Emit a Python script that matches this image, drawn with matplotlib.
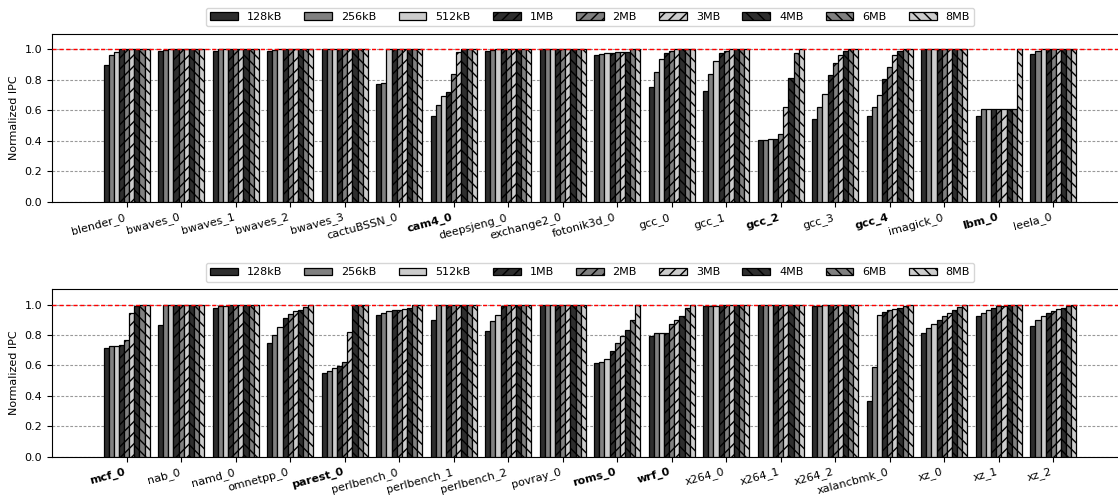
import matplotlib
matplotlib.use("Agg")
import matplotlib.pyplot as plt
import numpy as np

sizes = ["128kB", "256kB", "512kB", "1MB", "2MB", "3MB", "4MB", "6MB", "8MB"]

top_labels = ["blender_0", "bwaves_0", "bwaves_1", "bwaves_2", "bwaves_3", "cactuBSSN_0",
              "cam4_0", "deepsjeng_0", "exchange2_0", "fotonik3d_0", "gcc_0", "gcc_1",
              "gcc_2", "gcc_3", "gcc_4", "imagick_0", "lbm_0", "leela_0"]
top_bold = ["cam4_0", "gcc_2", "gcc_4", "lbm_0"]
top_values = [
    [0.90, 0.96, 0.985, 1.0, 1.0, 1.0, 1.0, 1.0, 1.0],
    [0.99, 0.995, 1.0, 1.0, 1.0, 1.0, 1.0, 1.0, 1.0],
    [0.99, 1.0, 1.0, 1.0, 1.0, 1.0, 1.0, 1.0, 1.0],
    [0.99, 0.995, 1.0, 1.0, 1.0, 1.0, 1.0, 1.0, 1.0],
    [1.0, 1.0, 1.0, 1.0, 1.0, 1.0, 1.0, 1.0, 1.0],
    [0.77, 0.78, 1.0, 1.0, 1.0, 1.0, 1.0, 1.0, 1.0],
    [0.56, 0.635, 0.695, 0.72, 0.84, 0.98, 1.0, 1.0, 1.0],
    [0.99, 0.995, 1.0, 1.0, 1.0, 1.0, 1.0, 1.0, 1.0],
    [1.0, 1.0, 1.0, 1.0, 1.0, 1.0, 1.0, 1.0, 1.0],
    [0.965, 0.97, 0.975, 0.978, 0.98, 0.983, 0.985, 1.0, 1.0],
    [0.75, 0.85, 0.935, 0.975, 0.99, 1.0, 1.0, 1.0, 1.0],
    [0.73, 0.84, 0.925, 0.975, 0.99, 1.0, 1.0, 1.0, 1.0],
    [0.405, 0.405, 0.41, 0.41, 0.445, 0.62, 0.81, 0.975, 1.0],
    [0.545, 0.62, 0.71, 0.83, 0.91, 0.965, 0.99, 1.0, 1.0],
    [0.56, 0.62, 0.70, 0.805, 0.885, 0.96, 0.99, 1.0, 1.0],
    [1.0, 1.0, 1.0, 1.0, 1.0, 1.0, 1.0, 1.0, 1.0],
    [0.565, 0.61, 0.61, 0.61, 0.61, 0.61, 0.61, 0.61, 1.0],
    [0.97, 0.99, 1.0, 1.0, 1.0, 1.0, 1.0, 1.0, 1.0],
]

bot_labels = ["mcf_0", "nab_0", "namd_0", "omnetpp_0", "parest_0", "perlbench_0",
              "perlbench_1", "perlbench_2", "povray_0", "roms_0", "wrf_0", "x264_0",
              "x264_1", "x264_2", "xalancbmk_0", "xz_0", "xz_1", "xz_2"]
bot_bold = ["mcf_0", "parest_0", "roms_0", "wrf_0"]
bot_values = [
    [0.715, 0.725, 0.73, 0.733, 0.77, 0.945, 0.99, 1.0, 1.0],
    [0.865, 1.0, 1.0, 1.0, 1.0, 1.0, 1.0, 1.0, 1.0],
    [0.975, 0.99, 0.99, 1.0, 1.0, 1.0, 1.0, 1.0, 1.0],
    [0.745, 0.80, 0.855, 0.91, 0.94, 0.955, 0.965, 0.985, 1.0],
    [0.547, 0.562, 0.584, 0.597, 0.62, 0.82, 1.0, 1.0, 1.0],
    [0.93, 0.947, 0.958, 0.962, 0.967, 0.969, 0.974, 1.0, 1.0],
    [0.897, 1.0, 1.0, 1.0, 1.0, 1.0, 1.0, 1.0, 1.0],
    [0.825, 0.892, 0.928, 0.99, 1.0, 1.0, 1.0, 1.0, 1.0],
    [1.0, 1.0, 1.0, 1.0, 1.0, 1.0, 1.0, 1.0, 1.0],
    [0.617, 0.624, 0.643, 0.696, 0.748, 0.792, 0.831, 0.897, 1.0],
    [0.794, 0.81, 0.81, 0.816, 0.871, 0.897, 0.925, 0.98, 1.0],
    [0.99, 0.99, 0.99, 1.0, 1.0, 1.0, 1.0, 1.0, 1.0],
    [0.995, 0.995, 0.995, 1.0, 1.0, 1.0, 1.0, 1.0, 1.0],
    [0.99, 0.992, 1.0, 1.0, 1.0, 1.0, 1.0, 1.0, 1.0],
    [0.367, 0.591, 0.93, 0.952, 0.967, 0.971, 0.98, 0.993, 1.0],
    [0.81, 0.847, 0.875, 0.901, 0.925, 0.947, 0.962, 0.984, 1.0],
    [0.925, 0.947, 0.967, 0.98, 0.989, 0.993, 1.0, 1.0, 1.0],
    [0.858, 0.897, 0.923, 0.941, 0.958, 0.969, 0.976, 0.991, 1.0],
]

yticks = [0.0, 0.2, 0.4, 0.6, 0.8, 1.0]

colors = ["#2e2e2e", "#808080", "#cccccc"] * 3
hatches = [None, None, None, "///", "///", "///", "\\\\\\", "\\\\\\", "\\\\\\"]

W, H = 1118, 495
plt.rcParams['hatch.linewidth'] = 1.0
fig = plt.figure(figsize=(W / 100, H / 100), dpi=100)

def px(l, t, r, b):
    return [l / W, 1 - b / H, (r - l) / W, (b - t) / H]

ax_top = fig.add_axes(px(52, 34, 1128, 202))
ax_bot = fig.add_axes(px(52, 289.3, 1128, 456.7))

bw = 0.094

def draw(ax, labels, values, bold):
    vals = np.array(values)
    x = np.arange(len(labels))
    for i in range(len(sizes)):
        ax.bar(x + (i - 4) * bw, vals[:, i], width=bw, color=colors[i],
               edgecolor="black", linewidth=0.9, hatch=hatches[i],
               label=sizes[i], zorder=3)
    ax.set_xlim(-1.37, len(labels) - 1 + 1.37)
    ax.set_ylim(0, 1.1)
    ax.set_yticks(yticks)
    ax.set_yticklabels([f"{v:.1f}" for v in yticks], fontsize=8)
    ax.set_xticks(x)
    ax.set_xticklabels(labels, rotation=15, ha="right", fontsize=8)
    for t in ax.get_xticklabels():
        if t.get_text() in bold:
            t.set_fontweight("bold")
    ax.yaxis.grid(True, linestyle=(0, (2.5, 1.5)), color="#999999", linewidth=0.8, zorder=0)
    ax.set_axisbelow(True)
    ax.axhline(1.0, color="red", linestyle=(0, (3, 2)), linewidth=1.0, zorder=5)
    ax.set_ylabel("Normalized IPC", fontsize=8)
    ax.legend(loc="lower center", bbox_to_anchor=(0.5, 1.045), ncol=9,
              fontsize=8, frameon=True, handlelength=2.5, columnspacing=2.0,
              borderaxespad=0)

draw(ax_top, top_labels, top_values, top_bold)
draw(ax_bot, bot_labels, bot_values, bot_bold)

fig.savefig("out.png", dpi=100)
